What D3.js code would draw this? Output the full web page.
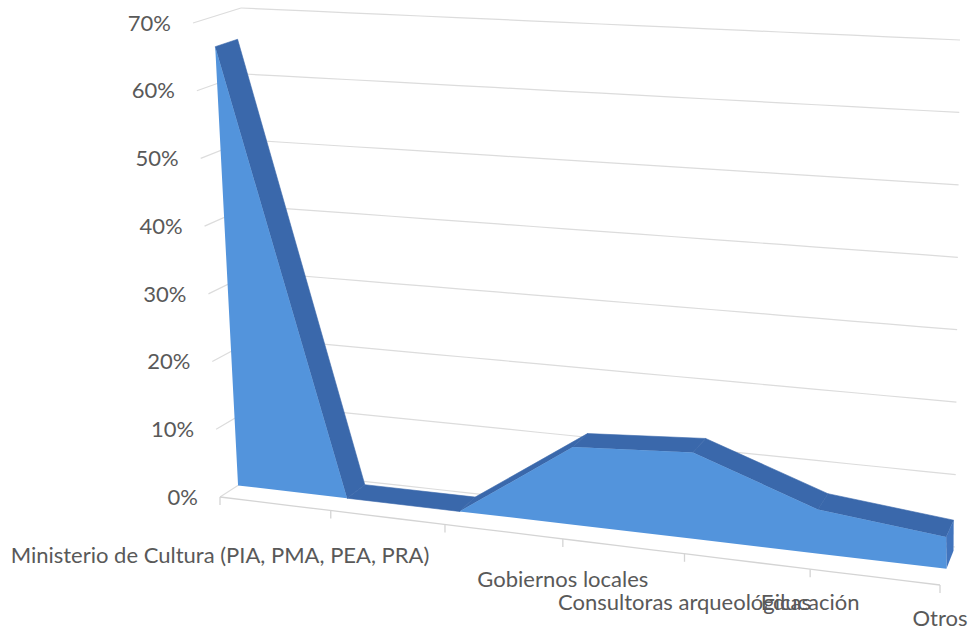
<!DOCTYPE html>
<html lang="es">
  <head>
    <meta charset="UTF-8" />
    <title>Área 3D - instituciones</title>
    <script src="https://cdn.jsdelivr.net/npm/d3@7"></script>
    <style>
      body {
        margin: 0;
        background: #fff;
      }

      text {
        font-family: Lato, 'Open Sans', sans-serif;
        fill: #595959;
      }

      .grid {
        fill: none;
        stroke: #dcdcdc;
        stroke-width: 1.2px;
      }

      .floor {
        fill: none;
        stroke: #d4d4d4;
        stroke-width: 1.3px;
      }
    </style>
  </head>
  <body>
    <svg width="970" height="630"></svg>
    <script>
      const categories = [
        'Ministerio de Cultura (PIA, PMA, PEA, PRA)',
        '',
        '',
        'Gobiernos locales',
        'Consultoras arqueológicas',
        'Educación',
        'Otros',
      ];
      const values = [0.655, 0, 0, 0.11, 0.12, 0.06, 0.042];
      const valueTicks = [0, 0.1, 0.2, 0.3, 0.4, 0.5, 0.6, 0.7];

      // extra drop of each category label under the floor edge (layout only)
      const labelDrop = [21, 0, 0, 3, 11, -4, -4];

      // screen corners of the 3d box: x = categories, y = value, z = depth
      const box = {
        p000: [220, 497],
        p010: [193, 23],
        p001: [262, 470],
        p011: [241, 8],
        p100: [940, 585],
        p110: [926, 45],
        p101: [955, 547],
        p111: [960, 40],
      };

      // depth of the area ribbon inside the box
      const zFront = 0.43,
        zBack = 0.9;

      const svg = d3.select('svg');

      const xScale = d3
        .scaleLinear()
        .domain([0, categories.length - 1])
        .range([0, 1]);
      const yScale = d3.scaleLinear().domain([0, 0.7]).range([0, 1]);

      // slight foreshortening along the category axis
      const r = 0.909;
      const warp = (t) => (r * t) / (1 - (1 - r) * t);

      function lerp(a, b, t) {
        return [a[0] + (b[0] - a[0]) * t, a[1] + (b[1] - a[1]) * t];
      }

      function proj(X, Y, Z) {
        const f = lerp(lerp(box.p000, box.p100, X), lerp(box.p010, box.p110, X), Y);
        const b = lerp(lerp(box.p001, box.p101, X), lerp(box.p011, box.p111, X), Y);
        return lerp(f, b, Z);
      }

      const px = (i) => warp(xScale(i));
      const line = d3.line();
      const pct = d3.format('.0%');

      // back wall and side wall gridlines
      const grid = svg.append('g');
      valueTicks.forEach((v) => {
        const Y = yScale(v);
        grid
          .append('path')
          .attr('class', 'grid')
          .attr('d', line(d3.range(0, 1.03, 0.05).map((X) => proj(X, Y, 1))));
        grid
          .append('path')
          .attr('class', 'grid')
          .attr('d', line([proj(0, Y, 0), proj(0, Y, 1)]));
      });

      // floor front edge with ticks
      const floor = svg.append('g');
      floor
        .append('path')
        .attr('class', 'floor')
        .attr('d', line(d3.range(0, 1.001, 0.05).map((X) => proj(X, 0, 0))));
      categories.forEach((c, i) => {
        const p = proj(px(i), 0, 0);
        floor
          .append('path')
          .attr('class', 'floor')
          .attr('d', line([p, [p[0], p[1] + 8]]));
      });

      // area ribbon: top faces, end cap, then the front face
      const area = svg.append('g');
      const n = values.length;
      for (let i = 0; i < n - 1; i++) {
        const a = px(i),
          b = px(i + 1);
        const va = yScale(values[i]),
          vb = yScale(values[i + 1]);
        area
          .append('path')
          .attr('fill', '#3a68ab')
          .attr('stroke', '#3a68ab')
          .attr('stroke-width', 0.6)
          .attr(
            'd',
            line([
              proj(a, va, zFront),
              proj(b, vb, zFront),
              proj(b, vb, zBack),
              proj(a, va, zBack),
            ]) + 'Z'
          );
      }

      const vLast = yScale(values[n - 1]);
      area
        .append('path')
        .attr('fill', '#4174bd')
        .attr(
          'd',
          line([
            proj(1, 0, zFront),
            proj(1, vLast, zFront),
            proj(1, vLast, zBack),
            proj(1, 0, zBack),
          ]) + 'Z'
        );

      const frontPts = values.map((v, i) => proj(px(i), yScale(v), zFront));
      const basePts = values.map((v, i) => proj(px(i), 0, zFront)).reverse();
      area
        .append('path')
        .attr('fill', '#5394dc')
        .attr('d', line(frontPts.concat(basePts)) + 'Z');

      // value axis labels
      svg
        .append('g')
        .selectAll('text')
        .data(valueTicks)
        .enter()
        .append('text')
        .attr('x', (v) => proj(0, yScale(v), 0)[0] - 22)
        .attr('y', (v) => proj(0, yScale(v), 0)[1])
        .attr('dy', '0.35em')
        .style('text-anchor', 'end')
        .style('font-size', '22px')
        .text((v) => pct(v));

      // category labels
      svg
        .append('g')
        .selectAll('text')
        .data(categories)
        .enter()
        .append('text')
        .attr('x', (c, i) => proj(px(i), 0, 0)[0])
        .attr('y', (c, i) => proj(px(i), 0, 0)[1] + 45 + labelDrop[i])
        .style('text-anchor', 'middle')
        .style('font-size', '22px')
        .text((c) => c);
    </script>
  </body>
</html>
